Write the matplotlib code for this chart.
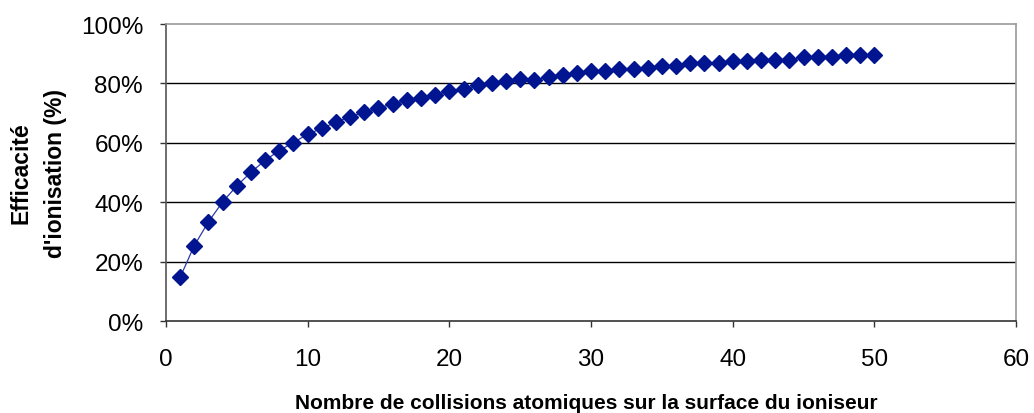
import matplotlib
matplotlib.use("Agg")
import matplotlib.pyplot as plt
from matplotlib.ticker import PercentFormatter

# Number of collisions and ionisation efficiency (%)
collisions = list(range(1, 51))
efficiency = [14.7, 25.4, 33.4, 40.1, 45.5, 50.1, 54.1, 57.4, 60.1, 62.9,
              64.9, 66.9, 68.8, 70.3, 71.7, 73.1, 74.3, 75.1, 76.2, 77.4,
              78.0, 79.4, 80.1, 80.9, 81.4, 81.2, 82.1, 82.8, 83.4, 84.1,
              84.2, 84.8, 84.8, 85.1, 85.9, 85.9, 86.8, 86.8, 86.9, 87.4,
              87.4, 88.0, 88.0, 88.0, 88.8, 88.8, 88.8, 89.6, 89.6, 89.6]

x_ticks = [0, 10, 20, 30, 40, 50, 60]
y_ticks = [0, 20, 40, 60, 80, 100]

plt.rcParams['font.family'] = ['Liberation Sans', 'DejaVu Sans']

fig = plt.figure(figsize=(10.34, 4.14), dpi=100)
ax = fig.add_axes([0.1605, 0.2222, 0.8222, 0.7174])

ax.plot(collisions, efficiency, color='#2b3aa8', lw=0.9, zorder=3)
ax.plot(collisions, efficiency, ls='none', marker='D', ms=8,
        color='#021590', markeredgecolor='#021590', zorder=4)

ax.set_xlim(0, 60)
ax.set_ylim(0, 100)
ax.set_xticks(x_ticks)
ax.set_yticks(y_ticks)
ax.yaxis.set_major_formatter(PercentFormatter(decimals=0))

# black horizontal grid, grey frame on top/right
for v in y_ticks[1:-1]:
    ax.axhline(v, color='black', lw=1, zorder=1)
ax.spines['top'].set_color('#999999')
ax.spines['right'].set_color('#999999')
ax.spines['left'].set_color('#555555')
ax.spines['bottom'].set_color('#333333')
for s in ax.spines.values():
    s.set_linewidth(1.2)

ax.tick_params(axis='both', direction='out', length=4.5, width=1,
               color='#333333', labelsize=17.5)
ax.tick_params(axis='y', pad=12)
ax.tick_params(axis='x', pad=15)

xl = ax.set_xlabel('Nombre de collisions atomiques sur la surface du ioniseur',
                   fontsize=15, fontweight='bold')
xl.set_va('baseline')
ax.xaxis.set_label_coords(0.495, -0.292)
ax.set_ylabel('Efficacité\nd\'ionisation (%)', fontsize=16.5,
              fontweight='bold', labelpad=10, linespacing=1.65)

fig.savefig('out.png', dpi=100)
